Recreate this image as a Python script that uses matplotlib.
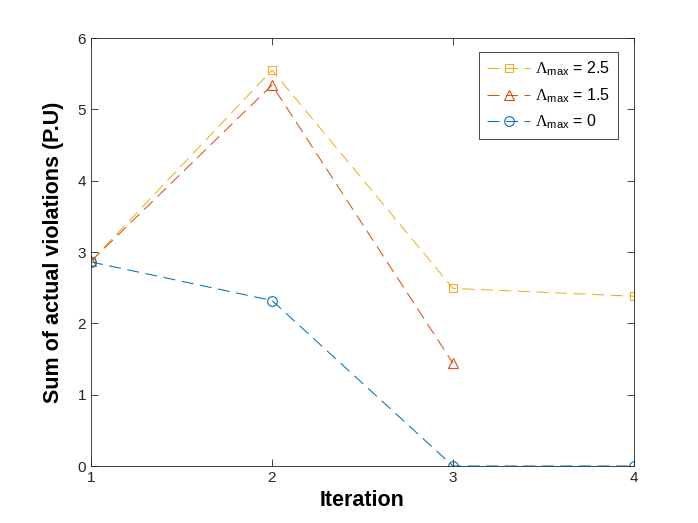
import matplotlib
matplotlib.use("Agg")
import matplotlib.pyplot as plt

plt.rcParams['font.family'] = ['Liberation Sans', 'DejaVu Sans']
plt.rcParams['mathtext.fontset'] = 'custom'
plt.rcParams['mathtext.rm'] = 'Liberation Serif'
plt.rcParams['mathtext.it'] = 'Liberation Serif:italic'
plt.rcParams['mathtext.sf'] = 'Liberation Sans'

iter_a = [1, 2, 3, 4]
vals_a = [2.87, 5.55, 2.49, 2.38]   # Lambda_max = 2.5
iter_b = [1, 2, 3]
vals_b = [2.87, 5.34, 1.44]         # Lambda_max = 1.5
iter_c = [1, 2, 3, 4]
vals_c = [2.86, 2.32, 0.0, 0.0]     # Lambda_max = 0

labels = [r'$\Lambda_{\mathsf{max}}$ = 2.5',
          r'$\Lambda_{\mathsf{max}}$ = 1.5',
          r'$\Lambda_{\mathsf{max}}$ = 0']

fig = plt.figure(figsize=(6.98, 5.23), dpi=100)
ax = fig.add_axes([91/698, 1-466/523, (634-91)/698, (466-38)/523])

dash = (0, (11.5, 6.3))
lw = 0.75
ax.plot(iter_a, vals_a, linestyle=dash, color='#EDB120', marker='s', markersize=6,
        markerfacecolor='none', linewidth=lw, markeredgewidth=0.8, label=labels[0])
ax.plot(iter_b, vals_b, linestyle=dash, color='#D95319', marker='^', markersize=7.5,
        markerfacecolor='none', linewidth=lw, markeredgewidth=0.8, label=labels[1])
ax.plot(iter_c, vals_c, linestyle=dash, color='#0072BD', marker='o', markersize=7,
        markerfacecolor='none', linewidth=lw, markeredgewidth=0.8, label=labels[2])

ax.set_xlim(1, 4)
ax.set_ylim(0, 6)
ax.set_xticks([1, 2, 3, 4])
ax.set_yticks([0, 1, 2, 3, 4, 5, 6])
ax.tick_params(direction='in', top=True, right=True, labelsize=11, colors='#262626',
               length=5, width=0.6)
for s in ax.spines.values():
    s.set_color('#262626')
    s.set_linewidth(0.6)

ax.set_xlabel('Iteration', fontsize=15.5, fontweight='bold', labelpad=4)
ax.set_ylabel('Sum of actual violations (P.U)', fontsize=15.5, fontweight='bold', labelpad=10)

leg = ax.legend(loc='upper right', fontsize=11.5, numpoints=1, handlelength=2.7,
                fancybox=False, framealpha=1, edgecolor='#262626',
                bbox_to_anchor=((618-91)/543, (466-52)/428), borderaxespad=0,
                labelspacing=0.5, handletextpad=0.3, borderpad=0.5)
leg.get_frame().set_linewidth(0.6)

fig.savefig('out.png', dpi=100)
